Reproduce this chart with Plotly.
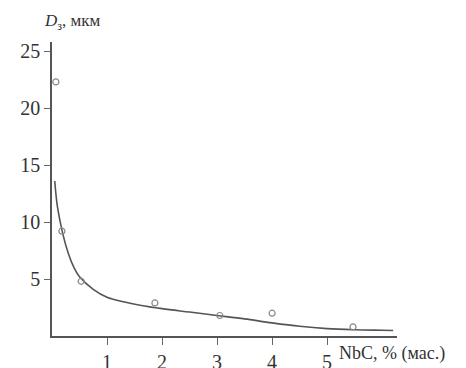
import plotly.graph_objects as go

# measured points
pts_x = [0.07, 0.18, 0.53, 1.87, 3.05, 4.0, 5.47]
pts_y = [22.3, 9.2, 4.8, 2.9, 1.8, 2.0, 0.8]

# fitted curve
curve_x = [0.05, 0.1, 0.2, 0.3, 0.4, 0.5, 0.75, 1.0, 1.3, 1.6, 2.0, 2.5, 3.0, 3.5, 4.0, 4.5, 5.0, 5.5, 6.0, 6.2]
curve_y = [13.6, 11.3, 8.9, 7.2, 6.0, 5.2, 4.1, 3.4, 3.0, 2.7, 2.4, 2.1, 1.8, 1.5, 1.15, 0.85, 0.65, 0.55, 0.5, 0.48]

x_ticks = [1, 2, 3, 4, 5]
y_ticks = [5, 10, 15, 20, 25]

fig = go.Figure()
fig.add_trace(go.Scatter(x=curve_x, y=curve_y, mode="lines",
                         line=dict(color="#555555", width=1.6, shape="spline"),
                         hoverinfo="skip", showlegend=False))
fig.add_trace(go.Scatter(x=pts_x, y=pts_y, mode="markers",
                         marker=dict(symbol="circle-open", size=6, color="#888888", line=dict(width=1.2)),
                         showlegend=False))

font_family = "Liberation Serif"
fig.update_layout(
    width=458, height=360,
    margin=dict(l=44, r=69, t=34, b=32),
    paper_bgcolor="white", plot_bgcolor="white",
    font=dict(family=font_family, color="#333333", size=20),
    xaxis=dict(range=[0, 6.27], tickvals=x_ticks, ticks="outside", ticklen=7,
               tickcolor="#666666", showgrid=False, zeroline=False, automargin=False,
               showline=True, linecolor="#555555", linewidth=1.5,
               tickfont=dict(size=20, family=font_family)),
    yaxis=dict(range=[0, 25.8], tickvals=y_ticks, ticks="outside", ticklen=6,
               tickcolor="#666666", showgrid=False, zeroline=False, automargin=False,
               showline=True, linecolor="#555555", linewidth=1.5,
               tickfont=dict(size=20, family=font_family)),
    annotations=[
        dict(text="<i>D</i><sub>з</sub>, мкм", xref="paper", yref="paper",
             x=-0.028, y=1.0, yshift=20, xanchor="left", yanchor="middle",
             showarrow=False, font=dict(size=17, family=font_family, color="#333333")),
        dict(text="NbC, % (мас.)", xref="paper", yref="paper",
             x=0.826, y=0, yshift=-17, xanchor="left", yanchor="middle",
             showarrow=False, font=dict(size=18, family=font_family, color="#333333")),
    ],
)

fig.write_html("out.html")
